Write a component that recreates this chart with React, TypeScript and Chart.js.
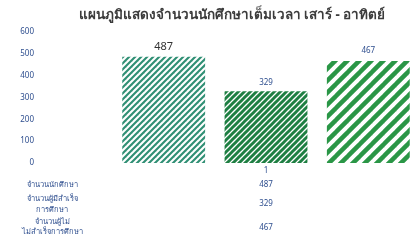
import React, { useEffect, useRef } from "react";
import { Chart, registerables } from "chart.js";

Chart.register(...registerables);

const titleText = "แผนภูมิแสดงจำนวนนักศึกษาเต็มเวลา เสาร์ - อาทิตย์";
const categories = ["1"];
const seriesNames = [
  ["จำนวนนักศึกษา"],
  ["จำนวนผู้มีสำเร็จ", "การศึกษา"],
  ["จำนวนผู้ไม่", "ไม่สำเร็จการศึกษา"],
];
const students = [487];
const graduated = [329];
const notGraduated = [467];
const yTicks = [0, 100, 200, 300, 400, 500, 600];

function makePattern(period: number, lineWidth: number, color: string) {
  const c = document.createElement("canvas");
  c.width = period;
  c.height = period;
  const ctx = c.getContext("2d")!;
  ctx.fillStyle = "#ffffff";
  ctx.fillRect(0, 0, period, period);
  ctx.strokeStyle = color;
  ctx.lineWidth = lineWidth;
  ctx.lineCap = "square";
  for (const o of [-period, 0, period]) {
    ctx.beginPath();
    ctx.moveTo(o, period);
    ctx.lineTo(o + period, 0);
    ctx.stroke();
  }
  return ctx.createPattern(c, "repeat")!;
}

export default function App() {
  const ref = useRef<HTMLCanvasElement>(null);
  useEffect(() => {
    document.body.style.margin = "0";
    const font = "Tahoma, 'Noto Sans', 'DejaVu Sans', sans-serif";
    const tablePlugin = {
      id: "tablePlugin",
      afterDraw(chart: any) {
        const ctx = chart.ctx;
        const x = chart.scales.x.getPixelForValue(0);
        const ys = chart.scales.y;
        ctx.save();
        // title
        ctx.fillStyle = "#3b3b3b";
        ctx.font = `bold 13.5px ${font}`;
        ctx.textAlign = "center";
        ctx.textBaseline = "middle";
        ctx.fillText(titleText, 232, 15);
        // y tick labels
        ctx.fillStyle = "#2f4f8f";
        ctx.font = `8px ${font}`;
        ctx.textAlign = "right";
        yTicks.forEach((v) => ctx.fillText(String(v), 34, ys.getPixelForValue(v)));
        ctx.textAlign = "center";
        // value labels
        const meta0 = chart.getDatasetMeta(0).data[0];
        const meta1 = chart.getDatasetMeta(1).data[0];
        const meta2 = chart.getDatasetMeta(2).data[0];
        ctx.fillStyle = "#333333";
        ctx.font = `11px ${font}`;
        ctx.fillText(String(students[0]), meta0.x, meta0.y - 10);
        ctx.fillStyle = "#2f4f8f";
        ctx.font = `8px ${font}`;
        ctx.fillText(String(graduated[0]), meta1.x, meta1.y - 8);
        ctx.fillText(String(notGraduated[0]), meta2.x, meta2.y - 10);
        // category label
        ctx.fillText(categories[0], x, 171);
        // data table
        const rowsY = [185, 204, 228];
        const vals = [students[0], graduated[0], notGraduated[0]];
        vals.forEach((v, i) => ctx.fillText(String(v), x, rowsY[i]));
        ctx.font = `7.5px ${font}`;
        const labelY = [[185], [199, 210], [222, 232]];
        seriesNames.forEach((lines, i) => {
          lines.forEach((t, j) => ctx.fillText(t, 52, labelY[i][j]));
        });
        ctx.restore();
      },
    };
    const chart = new Chart(ref.current!, {
      type: "bar",
      data: {
        labels: categories,
        datasets: [
          { label: seriesNames[0].join(""), data: students, backgroundColor: makePattern(6, 2.1, "#2f8f74") },
          { label: seriesNames[1].join(""), data: graduated, backgroundColor: makePattern(6, 3, "#1e7f42") },
          { label: seriesNames[2].join(""), data: notGraduated, backgroundColor: makePattern(12, 4.5, "#2a9646") },
        ],
      },
      options: {
        responsive: false,
        animation: false,
        layout: { padding: { top: 32, left: 0, right: 0, bottom: 80 } },
        plugins: { legend: { display: false }, tooltip: { enabled: false }, title: { display: false } },
        datasets: { bar: { categoryPercentage: 1.03, barPercentage: 0.81 } },
        scales: {
          x: { display: false },
          y: {
            min: 0,
            max: 600,
            afterFit(scale: any) {
              scale.width = 117;
            },
            border: { display: false },
            grid: { display: false },
            ticks: { display: false, stepSize: 100 },
          },
        },
      },
      plugins: [tablePlugin],
    });
    return () => chart.destroy();
  }, []);
  return (
    <div style={{ position: "absolute", left: 0, top: 0, width: 415, height: 243 }}>
      <canvas ref={ref} width={415} height={243} />
    </div>
  );
}
